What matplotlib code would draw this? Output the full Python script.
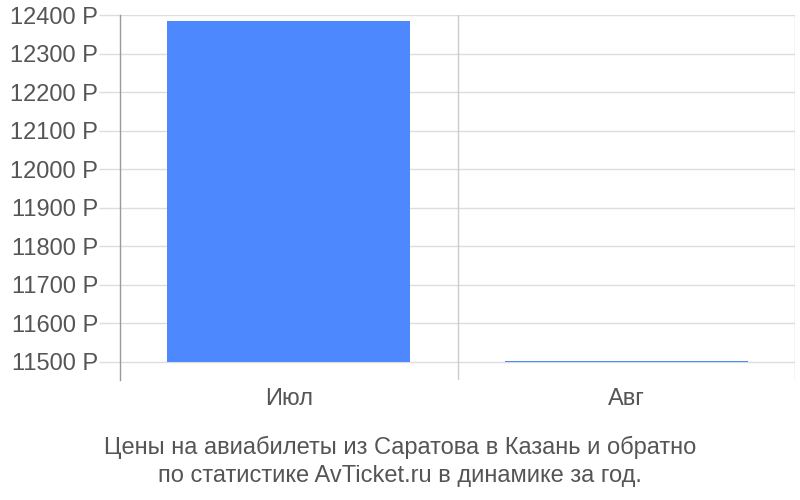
import matplotlib.pyplot as plt
from matplotlib.ticker import FixedLocator

# ----------------------------
# DATA
# ----------------------------

months = ["Июл", "Авг"]
prices = [12385, 11502]
y_ticks = [11500, 11600, 11700, 11800, 11900, 12000, 12100, 12200, 12300, 12400]
caption = ("Цены на авиабилеты из Саратова в Казань и обратно\n"
           "по статистике AvTicket.ru в динамике за год.")

plt.rcParams["font.family"] = ["Liberation Sans", "DejaVu Sans"]

text_color = "#555555"
bar_color = "#4D88FF"

fig = plt.figure(figsize=(8, 5), dpi=100)
ax = fig.add_axes([0.15, 0.24, 0.84375, 0.73])

x = list(range(len(months)))
base = y_ticks[0]
ax.bar(x, [p - base for p in prices], bottom=base, width=0.72,
       color=bar_color, linewidth=0, zorder=3)

ax.set_xlim(-0.5, len(months) - 0.5)
ax.set_ylim(base - 47, y_ticks[-1])

# horizontal grid only at tick values
for t in y_ticks:
    ax.axhline(t, color="#dddddd", linewidth=1, zorder=1)

# vertical boundaries between categories
for b in [i + 0.5 for i in x[:-1]] + [len(months) - 0.5]:
    ax.axvline(b, color="#cccccc", linewidth=1, zorder=1)

ax.yaxis.set_major_locator(FixedLocator(y_ticks))
ax.set_yticklabels([f"{t} Р" for t in y_ticks])
ax.tick_params(axis="y", length=15, width=1, color="#dddddd",
               labelsize=17, labelcolor=text_color, pad=1)

ax.set_xticks(x)
ax.set_xticklabels(months)
ax.tick_params(axis="x", length=0, labelsize=17, labelcolor=text_color, pad=6)

for side in ["top", "right", "bottom"]:
    ax.spines[side].set_visible(False)
ax.spines["left"].set_color("#999999")
ax.spines["left"].set_linewidth(1)

fig.text(0.5, 0.077, caption, ha="center", va="center",
         fontsize=17, color=text_color, linespacing=1.32)

plt.savefig("out.png", dpi=100)
